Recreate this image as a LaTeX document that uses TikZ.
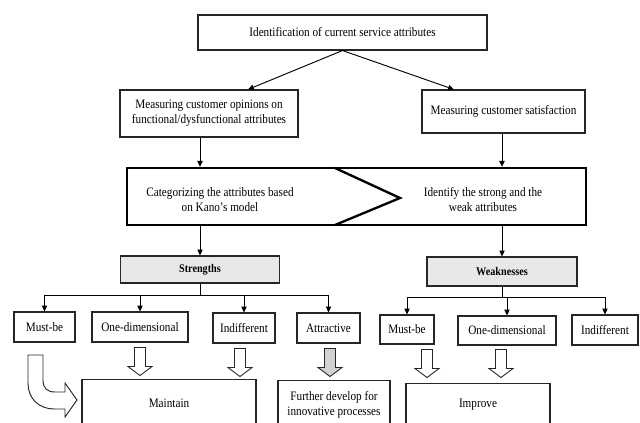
\documentclass[tikz,border=0pt]{standalone}
\usepackage{fontspec}
\setmainfont{Liberation Serif}[FakeStretch=0.87]
\usetikzlibrary{arrows.meta, positioning, calc}

\tikzset{
  box/.style={draw=black!85, line width=0.9pt, fill=white, align=center, inner sep=2pt},
  headbox/.style={box, fill=gray!18, font=\bfseries},
  conn/.style={-{Triangle[length=5pt,width=4.5pt]}, line width=0.8pt},
  pics/fatdown/.style={code={
    \draw[line width=0.8pt, draw=black!85, fill=#1] (-5.5,0) -- (5.5,0) -- (5.5,19)
      -- (12,19) -- (0,28) -- (-12,19) -- (-5.5,19) -- cycle;}},
  pics/fatdown/.default=white
}

\begin{document}
\begin{tikzpicture}[x=0.03cm, y=-0.03cm, font=\fontsize{11}{12.8}\selectfont]
  \useasboundingbox (0,0) rectangle (640,423);
  \clip (0,0) rectangle (640,423);

  % first steps
  \node[box, minimum width=8.67cm, minimum height=1.05cm] (ident) at (342.5,32.5)
    {Identification of current service attributes};
  \node[box, minimum width=5.34cm, minimum height=1.41cm] (measL) at (209,113.5)
    {Measuring customer opinions on\\functional/dysfunctional attributes};
  \node[box, minimum width=4.89cm, minimum height=1.29cm] (measR) at (503.5,111.5)
    {Measuring customer satisfaction};
  \draw[conn] (ident.south) -- ($(measL.north)+(39,0)$);
  \draw[conn] (ident.south) -- ($(measR.north)+(-49.5,0)$);

  % analysis frame
  \node[draw, line width=2pt, minimum width=13.77cm, minimum height=1.71cm] (frame)
    at (356.5,196.5) {};
  \draw[line width=2pt] (335,168) -- (400,198) -- (335,225);
  \node[align=center] (kano) at (220,200)
    {Categorizing the attributes based\\on Kano's model};
  \node[align=center] (swa) at (483,200)
    {Identify the strong and the\\weak attributes};

  \node[headbox, minimum width=4.77cm, minimum height=0.81cm] (strong) at (200,269.5)
    {Strengths};
  \node[headbox, minimum width=4.5cm, minimum height=0.87cm] (weak) at (502,271.5)
    {Weaknesses};
  \draw[conn] (measL.south -| strong.north) -- (frame.north -| strong.north);
  \draw[conn] (measR.south -| weak.north) -- (frame.north -| weak.north);
  \draw[conn] (frame.south -| strong.north) -- (strong.north);
  \draw[conn] (frame.south -| weak.north) -- (weak.north);

  % Kano categories
  \node[box, minimum width=1.83cm, minimum height=0.9cm] (mustL) at (44.5,327) {Must-be};
  \node[box, minimum width=2.88cm, minimum height=0.9cm] (oneL) at (140,327) {One-dimensional};
  \node[box, minimum width=1.86cm, minimum height=0.9cm] (indL) at (244,328) {Indifferent};
  \node[box, minimum width=1.89cm, minimum height=0.9cm] (attL) at (328.5,328) {Attractive};
  \node[box, minimum width=1.62cm, minimum height=0.87cm] (mustR) at (407,329.5) {Must-be};
  \node[box, minimum width=2.94cm, minimum height=0.87cm] (oneR) at (507,330.5) {One-dimensional};
  \node[box, minimum width=1.98cm, minimum height=0.9cm] (indR) at (605,330) {Indifferent};

  \foreach \n in {mustL, oneL, indL, attL}
    \draw[conn] (strong.south) -- ++(0,12) -| (\n.north);
  \foreach \n in {mustR, oneR, indR}
    \draw[conn] (weak.south) -- ++(0,11) -| (\n.north);

  % actions
  \node[box, anchor=north, minimum width=5.22cm, minimum height=1.44cm] (maintain)
    at (169,379) {Maintain};
  \node[box, anchor=north, minimum width=3.36cm, minimum height=1.44cm] (develop)
    at (334,380) {Further develop for\\innovative processes};
  \node[box, anchor=north, minimum width=4.32cm, minimum height=1.26cm] (improve)
    at (478,383) {Improve};

  \pic at ($(oneL.south)+(0,5)$) {fatdown};
  \pic at ($(indL.south)+(-4,5)$) {fatdown};
  \pic at ($(attL.south)+(1.5,5)$) {fatdown=gray!35};
  \pic at ($(mustR.south)+(20,5)$) {fatdown};
  \pic at ($(oneR.south)+(-6,4)$) {fatdown};
  % bent arrow into Maintain
  \draw[line width=0.8pt, draw=black!85, fill=white] (28,355) -- (43,355) -- (43,380)
    .. controls (43,388) and (47,392) .. (55,392) -- (65,392) -- (65,383) -- (77,400)
    -- (65,417) -- (65,409) -- (55,409) .. controls (38,409) and (28,398) .. (28,383)
    -- cycle;
\end{tikzpicture}
\end{document}
